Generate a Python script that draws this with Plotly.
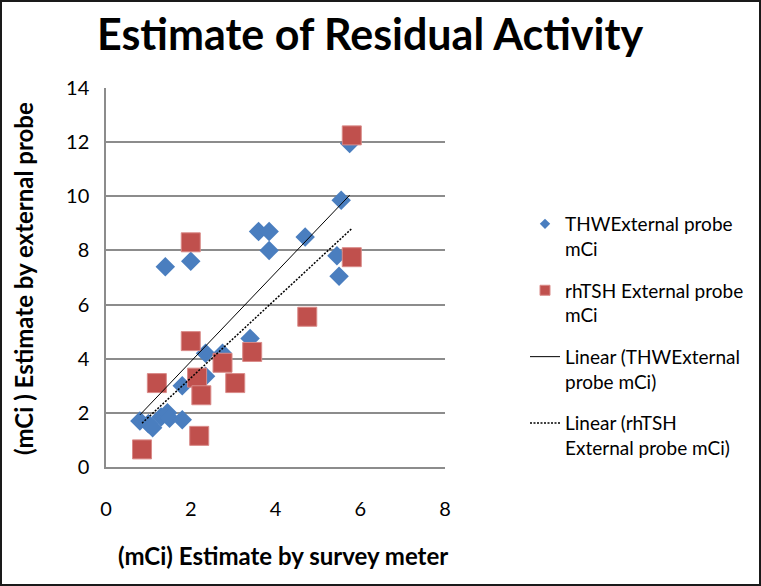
import numpy as np
import plotly.graph_objects as go

# THW External probe mCi
thw_x = [0.8, 1.0, 1.1, 1.3, 1.45, 1.5, 1.8, 1.8, 2.35, 2.35, 2.75, 3.4,
         1.4, 2.0, 3.6, 3.85, 3.85, 4.7, 5.45, 5.5, 5.55, 5.75]
thw_y = [1.7, 1.6, 1.45, 1.85, 2.0, 1.8, 1.75, 3.0, 3.35, 4.2, 4.2, 4.75,
         7.4, 7.6, 8.7, 8.7, 8.0, 8.5, 7.8, 7.05, 9.85, 11.95]

# rhTSH External probe mCi
rh_x = [0.85, 1.2, 2.0, 2.0, 2.15, 2.2, 2.25, 2.75, 3.05, 3.45, 4.75, 5.8, 5.8]
rh_y = [0.65, 3.1, 4.65, 8.3, 3.3, 1.15, 2.65, 3.85, 3.1, 4.25, 5.55, 7.75, 12.25]

x_ticks = [0, 2, 4, 6, 8]
y_ticks = [0, 2, 4, 6, 8, 10, 12, 14]

title_text = "Estimate of Residual Activity"
x_title = "(mCi) Estimate by survey meter"
y_title = "(mCi ) Estimate by external probe"
names = ["THWExternal probe<br>mCi", "rhTSH External probe<br>mCi",
         "Linear (THWExternal<br>probe mCi)", "Linear (rhTSH<br>External probe mCi)"]

BLUE = "#4A7EBF"
RED = "#C0504D"
FONT = "Lato"

W, H = 761, 586
L, R, T, B = 106, 316, 88, 119
PW, PH = W - L - R, H - T - B


def px(xp):
    return (xp - L) / PW


def py(yp):
    return (H - B - yp) / PH


def trend(xs, ys):
    k, b = np.polyfit(xs, ys, 1)
    xx = np.array([min(xs), max(xs)])
    return xx, k * xx + b


blue_marker = dict(symbol="diamond", color=BLUE, line=dict(width=0))
red_marker = dict(symbol="square", color=RED, line=dict(width=1, color="#D98A88"))

fig = go.Figure()
fig.add_trace(go.Scatter(x=thw_x, y=thw_y, mode="markers", name=names[0],
                         legendgroup="a", showlegend=False,
                         marker=dict(size=15, **blue_marker)))
fig.add_trace(go.Scatter(x=rh_x, y=rh_y, mode="markers", name=names[1],
                         legendgroup="b", showlegend=False,
                         marker=dict(size=19, **red_marker)))
tx, ty = trend(thw_x, thw_y)
fig.add_trace(go.Scatter(x=tx, y=ty, mode="lines", name=names[2], legendgroup="c",
                         legendrank=3, line=dict(color="#000000", width=1)))
rx, ry = trend(rh_x, rh_y)
fig.add_trace(go.Scatter(x=rx, y=ry, mode="lines", name=names[3], legendgroup="d",
                         legendrank=4,
                         line=dict(color="#000000", width=1.5, dash="2px,1.5px")))
# legend samples for the marker series (smaller symbols, as in the original)
fig.add_trace(go.Scatter(x=[None], y=[None], mode="markers", name=names[0],
                         legendgroup="a", legendrank=1,
                         marker=dict(size=8, **blue_marker)))
fig.add_trace(go.Scatter(x=[None], y=[None], mode="markers", name=names[1],
                         legendgroup="b", legendrank=2,
                         marker=dict(size=10, **red_marker)))

fig.update_layout(
    width=W, height=H,
    margin=dict(l=L, r=R, t=T, b=B, pad=0),
    paper_bgcolor="white", plot_bgcolor="white",
    font=dict(family=FONT, color="#000000", size=18),
    showlegend=True,
    legend=dict(x=px(525), y=py(205), xanchor="left", yanchor="top",
                font=dict(family=FONT, size=19, color="#000000"),
                tracegroupgap=14, valign="top", bgcolor="rgba(0,0,0,0)"),
    xaxis=dict(range=[0, 8], tickvals=x_ticks, showgrid=False, zeroline=False,
               showline=True, linecolor="#8C8C8C", linewidth=1.5,
               ticks="", ticklabelstandoff=23,
               tickfont=dict(family=FONT, size=20, color="#000000")),
    yaxis=dict(range=[0, 14], tickvals=y_ticks, showgrid=True, gridcolor="#8C8C8C",
               gridwidth=1.5, zeroline=False, showline=True, linecolor="#8C8C8C",
               linewidth=1.5, ticks="", ticklabelstandoff=11,
               tickfont=dict(family=FONT, size=20, color="#000000")),
    annotations=[
        dict(text="<b>%s</b>" % title_text, x=px(370), y=py(34), xref="paper", yref="paper",
             showarrow=False, xanchor="center", yanchor="middle",
             font=dict(family=FONT, size=43, color="#000000")),
        dict(text="<b>%s</b>" % x_title, x=px(283), y=py(555), xref="paper", yref="paper",
             showarrow=False, xanchor="center", yanchor="middle",
             font=dict(family=FONT, size=24, color="#000000")),
        dict(text="<b>%s</b>" % y_title, x=px(23), y=py(279), xref="paper", yref="paper",
             showarrow=False, xanchor="center", yanchor="middle", textangle=-90,
             font=dict(family=FONT, size=24, color="#000000")),
    ],
    shapes=[
        dict(type="rect", xref="paper", yref="paper",
             x0=px(1), x1=px(W - 1), y0=py(H - 1), y1=py(1),
             line=dict(color="#1A1A1A", width=2), fillcolor="rgba(0,0,0,0)", layer="above"),
    ],
)

fig.write_html("out.html", config={"displayModeBar": False},
               post_script="document.body.style.margin='0';document.body.style.overflow='hidden';")
